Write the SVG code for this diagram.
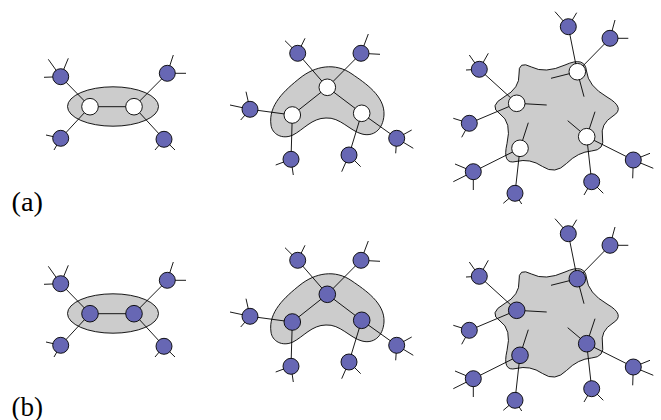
<svg xmlns="http://www.w3.org/2000/svg" width="661" height="420" viewBox="0 0 661 420">
<style>
.e{stroke:#000;stroke-width:0.9;fill:none}
.blob{fill:#cccccc;stroke:#000;stroke-width:0.9}
.w{fill:#fff;stroke:#000;stroke-width:0.9}
.b{fill:#6767b4;stroke:#000;stroke-width:0.9}
.lbl{font-family:"Liberation Serif","DejaVu Serif",serif;font-size:27px;fill:#000}
</style>
<defs>
<g id="rowtpl">
  <ellipse class="blob" cx="113" cy="106.5" rx="45.5" ry="19.7"/>
  <path class="blob" d="M 271,125 C 268,105 285,90 300,78 C 315,66 335,62 352,74 C 365,83 385,96 384,115 C 383,130 373,137 362,134 C 350,131 340,117 326,118 C 312,118 303,130 293,135 C 282,140 272,134 271,125 Z"/>
  <path class="blob" d="M 519,74 Q 518,60 531.5,67 Q 545,74 565,65 Q 585,56 586.5,71 Q 588,86 607,97 Q 626,108 613,116 Q 600,124 602.5,137 Q 605,150 591.5,151 Q 578,152 566.5,163.5 Q 555,175 542.5,166.5 Q 530,158 516,161.5 Q 502,165 507,143.5 Q 512,122 500,114 Q 488,106 504,97 Q 520,88 519,74 Z"/>
  <g class="connectors">
    <path class="e" d="M90,106.7 L134,106.7 M60.7,76.7 L90,106.7 L60.7,138.3 M167.3,73.3 L134,106.7 L164,139.3"/>
    <path class="e" d="M60.7,76.7 L48.3,59.3 M60.7,76.7 L68.3,58.3 M60.7,76.7 L44,77.3 M167.3,73.3 L173.3,55 M167.3,73.3 L186,73.3 M60.7,138.3 L46,135 M60.7,138.3 L54,150 M164,139.3 L155,150 M164,139.3 L175,150"/>
    <path class="e" d="M297.7,53.3 L327.3,87.3 L361,53.3 M327.3,87.3 L292.3,115 M327.3,87.3 L361.7,113.3 M292.3,115 L250,109.3 M292.3,115 L291,159.3 M361.7,113.3 L349,155 M361.7,113.3 L396.7,138.3"/>
    <path class="e" d="M297.7,53.3 L285,40.7 M297.7,53.3 L305,38.3 M361,53.3 L368.3,34 M361,53.3 L380,54.3 M250,109.3 L246,91.7 M250,109.3 L230,105 M250,109.3 L240.7,120 M291,159.3 L275.7,165 M291,159.3 L293.3,175 M349,155 L341.7,171.7 M349,155 L360.7,166.7 M396.7,138.3 L411.7,130 M396.7,138.3 L413.3,148.3 M396.7,138.3 L395.7,153.3"/>
    <path class="e" d="M568.3,26.7 L577.3,71.7 L610,38.3 M577.3,71.7 L551,78.3 M577.3,71.7 L584,96.7 M479.3,69.3 L516.7,103.3 L469.3,123.3 M516.7,103.3 L546.7,105 M591.7,181.7 L586.7,136.7 L633.3,160 M586.7,136.7 L567.7,120.7 M586.7,136.7 L595,111.7 M473.3,171.7 L520,148.3 L515,193.3 M520,148.3 L528.3,122.7"/>
    <path class="e" d="M568.3,26.7 L555,11.7 M568.3,26.7 L576.7,12.7 M610,38.3 L615,20 M610,38.3 L628.3,38.3 M479.3,69.3 L469.3,55 M479.3,69.3 L488.3,53.3 M479.3,69.3 L466,70 M469.3,123.3 L453.3,118.3 M469.3,123.3 L461.7,137.3 M473.3,171.7 L455,164 M473.3,171.7 L453.3,181.7 M473.3,171.7 L473.3,190 M515,193.3 L503.3,203.3 M515,193.3 L521.7,204 M591.7,181.7 L584,195 M591.7,181.7 L603.3,193.3 M633.3,160 L650,153.3 M633.3,160 L653.3,168.3 M633.3,160 L632.7,178.3"/>
  </g>
  <g class="outer">
    <circle class="b" cx="60.7" cy="76.7" r="8"/>
    <circle class="b" cx="167.3" cy="73.3" r="8"/>
    <circle class="b" cx="60.7" cy="138.3" r="8"/>
    <circle class="b" cx="164" cy="139.3" r="8"/>
    <circle class="b" cx="297.7" cy="53.3" r="8"/>
    <circle class="b" cx="361" cy="53.3" r="8"/>
    <circle class="b" cx="250" cy="109.3" r="8"/>
    <circle class="b" cx="291" cy="159.3" r="8"/>
    <circle class="b" cx="349" cy="155" r="8"/>
    <circle class="b" cx="396.7" cy="138.3" r="8"/>
    <circle class="b" cx="568.3" cy="26.7" r="8"/>
    <circle class="b" cx="610" cy="38.3" r="8"/>
    <circle class="b" cx="479.3" cy="69.3" r="8"/>
    <circle class="b" cx="469.3" cy="123.3" r="8"/>
    <circle class="b" cx="473.3" cy="171.7" r="8"/>
    <circle class="b" cx="515" cy="193.3" r="8"/>
    <circle class="b" cx="591.7" cy="181.7" r="8"/>
    <circle class="b" cx="633.3" cy="160" r="8"/>
  </g>
</g>
</defs>
<g id="row-a">
  <use href="#rowtpl"/>
  <g id="a-inner" class="w">
    <circle id="a1-n1" cx="90" cy="106.7" r="8.3"/>
    <circle id="a1-n2" cx="134" cy="106.7" r="8.3"/>
    <circle id="a2-n1" cx="327.3" cy="87.3" r="8.3"/>
    <circle id="a2-n2" cx="292.3" cy="115" r="8.3"/>
    <circle id="a2-n3" cx="361.7" cy="113.3" r="8.3"/>
    <circle id="a3-n1" cx="577.3" cy="71.7" r="8.3"/>
    <circle id="a3-n2" cx="516.7" cy="103.3" r="8.3"/>
    <circle id="a3-n3" cx="586.7" cy="136.7" r="8.3"/>
    <circle id="a3-n4" cx="520" cy="148.3" r="8.3"/>
  </g>
  <text class="lbl" x="11.5" y="210.5" textLength="31.5" lengthAdjust="spacingAndGlyphs">(a)</text>
</g>
<g id="row-b" transform="translate(0,207)">
  <use href="#rowtpl"/>
  <g id="b-inner" class="b">
    <circle id="b1-n1" cx="90" cy="106.7" r="8.3"/>
    <circle id="b1-n2" cx="134" cy="106.7" r="8.3"/>
    <circle id="b2-n1" cx="327.3" cy="87.3" r="8.3"/>
    <circle id="b2-n2" cx="292.3" cy="115" r="8.3"/>
    <circle id="b2-n3" cx="361.7" cy="113.3" r="8.3"/>
    <circle id="b3-n1" cx="577.3" cy="71.7" r="8.3"/>
    <circle id="b3-n2" cx="516.7" cy="103.3" r="8.3"/>
    <circle id="b3-n3" cx="586.7" cy="136.7" r="8.3"/>
    <circle id="b3-n4" cx="520" cy="148.3" r="8.3"/>
  </g>
  <text class="lbl" x="11.5" y="208.5" textLength="31.5" lengthAdjust="spacingAndGlyphs">(b)</text>
</g>
</svg>
